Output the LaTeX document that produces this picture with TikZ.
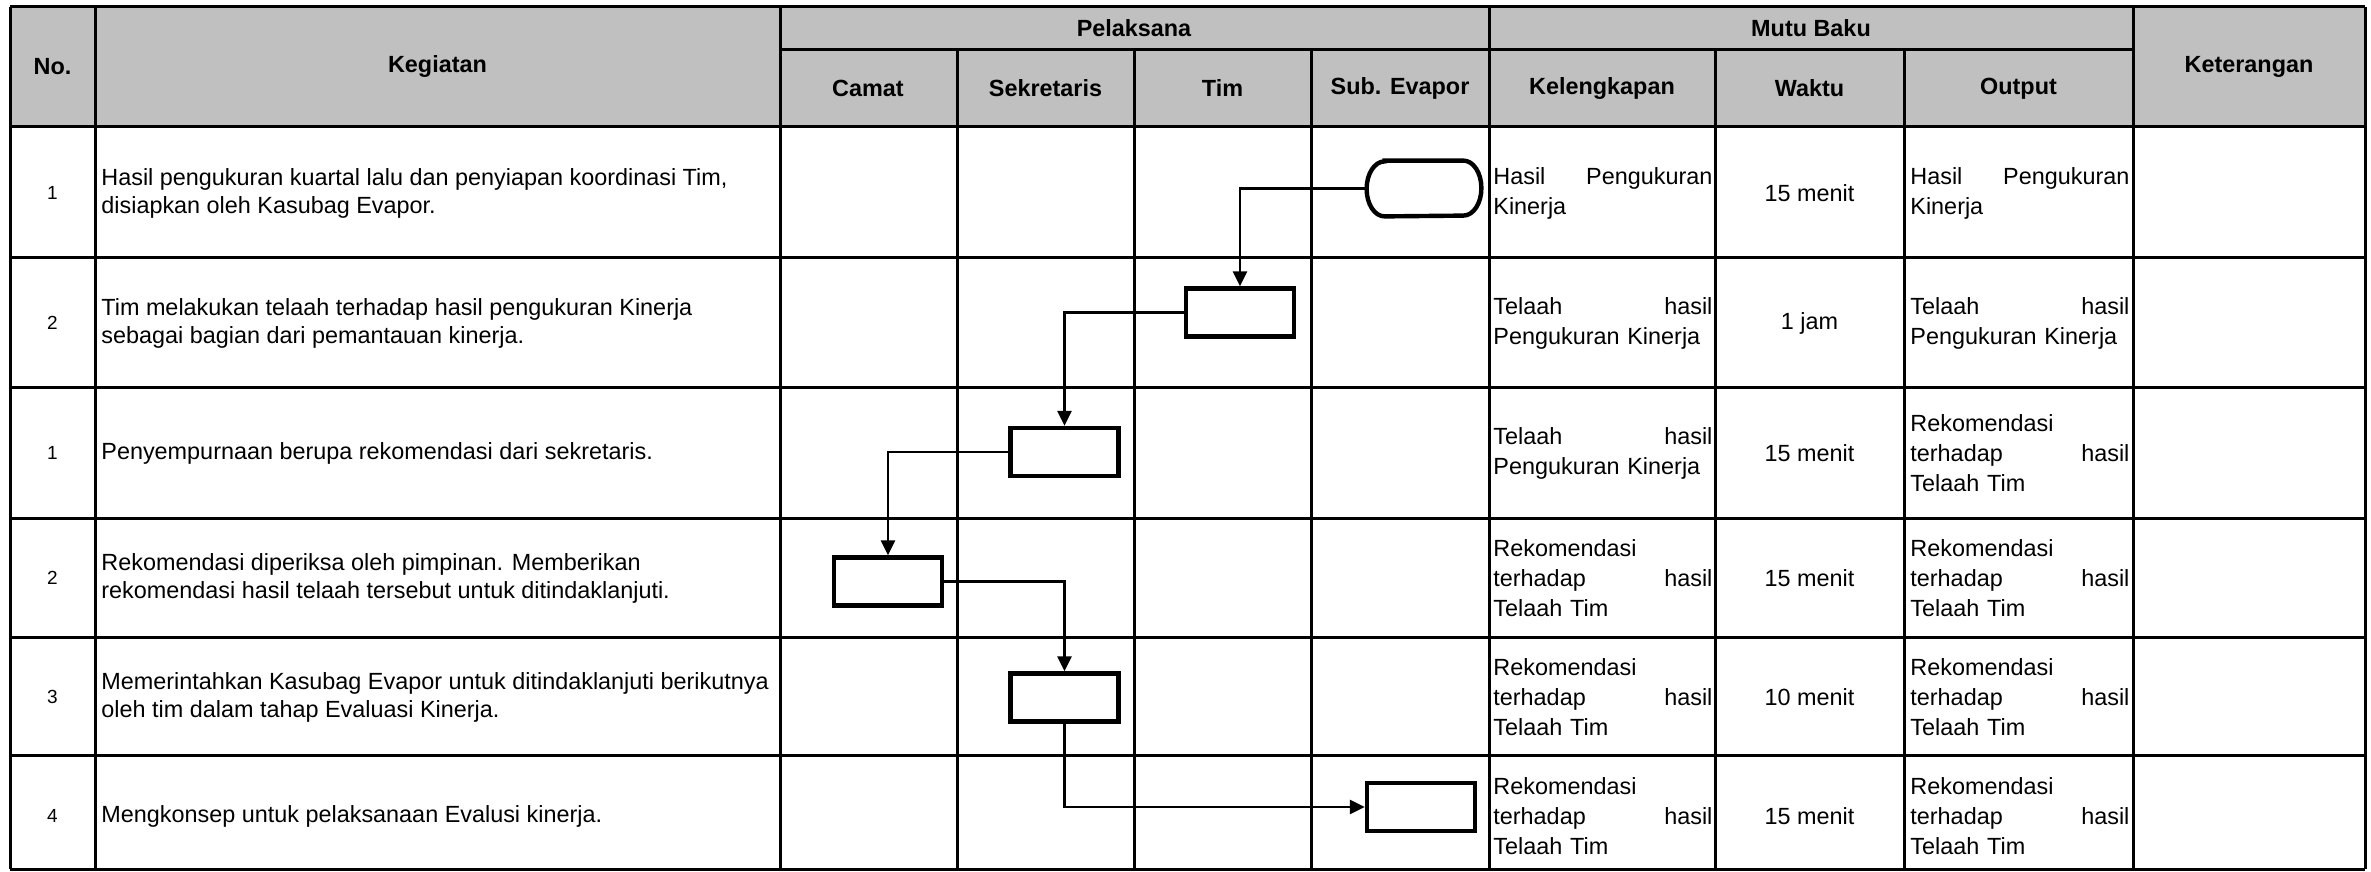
\documentclass[tikz,border=0pt]{standalone}
\usepackage{fontspec}
\setmainfont{Liberation Sans}
\usetikzlibrary{arrows.meta}
\definecolor{hdr}{RGB}{192,192,192}
\newcommand\bodyfont{\fontsize{11.7pt}{14pt}\selectfont}
\newcommand\cellfont{\fontsize{11.7pt}{15pt}\selectfont}
\newcommand\numfont{\fontsize{9.5pt}{11pt}\selectfont}
\newcommand\hdfont{\fontsize{11.7pt}{14pt}\selectfont\bfseries}
\newcommand\jline[2]{\leavevmode\hbox to 109.5pt{#1\hfill #2}}
\begin{document}
\begin{tikzpicture}[x=0.5pt,y=-0.5pt,
  grid/.style={line width=1.5pt,draw=black},
  hd/.style={font=\hdfont,inner sep=0pt},
  num/.style={font=\numfont,inner sep=0pt},
  keg/.style={font=\bodyfont,align=left,anchor=west,inner sep=0pt},
  mb/.style={font=\cellfont,anchor=west,inner sep=0pt,text width=109.5pt,align=left},
  wk/.style={font=\bodyfont,inner sep=0pt},
  proc/.style={draw,line width=2.2pt,minimum width=54pt,minimum height=24pt,inner sep=0pt},
  term/.style={minimum width=57pt,minimum height=27.5pt,inner sep=0pt},
  termline/.style={line width=2.2pt},
  conn/.style={line width=1.4pt,-{Triangle[length=7.5pt,width=7pt]}}]
\useasboundingbox (0,0) rectangle (2371,872);
% header fill
\fill[hdr] (10,7) rectangle (2365,127);
% grid lines
\draw[grid] (10,7) -- (2365,7);
\draw[grid] (779,50) -- (2133,50);
\foreach \yy in {127,257,387,518,637,755,869} \draw[grid] (10,\yy) -- (2365,\yy);
\foreach \xx in {10,95,780,1489,2133,2365} \draw[grid] (\xx,7) -- (\xx,869);
\foreach \xx in {957,1134,1311,1715,1904} \draw[grid] (\xx,50) -- (\xx,869);
% header texts
\node[hd] (hno) at (52.5,67) {No.};
\node[hd] (hkeg) at (437.5,67) {Kegiatan};
\node[hd] (hpel) at (1134,28.5) {Pelaksana};
\node[hd] (hmutu) at (1811,28.5) {Mutu Baku};
\node[hd] (hcam) at (868,88.5) {Camat};
\node[hd] (hsek) at (1045.5,88.5) {Sekretaris};
\node[hd] (htim) at (1222.5,88.5) {Tim};
\node[hd] (hsub) at (1400,88.5) {Sub. Evapor};
\node[hd] (hkel) at (1602,88.5) {Kelengkapan};
\node[hd] (hwak) at (1809.5,88.5) {Waktu};
\node[hd] (hout) at (2018.5,88.5) {Output};
\node[hd] (hket) at (2249,67) {Keterangan};
% numbers
\node[num] (n1) at (52.5,193) {1};
\node[num] (n2) at (52.5,323) {2};
\node[num] (n3) at (52.5,453) {1};
\node[num] (n4) at (52.5,578) {2};
\node[num] (n5) at (52.5,697) {3};
\node[num] (n6) at (52.5,816) {4};
% kegiatan
\node[keg] (k1) at (101,193) {Hasil pengukuran kuartal lalu dan penyiapan koordinasi Tim,\\disiapkan oleh Kasubag Evapor.};
\node[keg] (k2) at (101,323) {Tim melakukan telaah terhadap hasil pengukuran Kinerja\\sebagai bagian dari pemantauan kinerja.};
\node[keg] (k3) at (101,453) {Penyempurnaan berupa rekomendasi dari sekretaris.};
\node[keg] (k4) at (101,578) {Rekomendasi diperiksa oleh pimpinan. Memberikan\\rekomendasi hasil telaah tersebut untuk ditindaklanjuti.};
\node[keg] (k5) at (101,697) {Memerintahkan Kasubag Evapor untuk ditindaklanjuti berikutnya\\oleh tim dalam tahap Evaluasi Kinerja.};
\node[keg] (k6) at (101,816) {Mengkonsep untuk pelaksanaan Evalusi kinerja.};
% kelengkapan
\node[mb] (l1) at (1493,193) {\jline{Hasil}{Pengukuran}\\Kinerja};
\node[mb] (l2) at (1493,323) {\jline{Telaah}{hasil}\\Pengukuran Kinerja};
\node[mb] (l3) at (1493,453) {\jline{Telaah}{hasil}\\Pengukuran Kinerja};
\node[mb] (l4) at (1493,578) {Rekomendasi\\\jline{terhadap}{hasil}\\Telaah Tim};
\node[mb] (l5) at (1493,697) {Rekomendasi\\\jline{terhadap}{hasil}\\Telaah Tim};
\node[mb] (l6) at (1493,816) {Rekomendasi\\\jline{terhadap}{hasil}\\Telaah Tim};
% waktu
\node[wk] (w1) at (1809.5,193) {15 menit};
\node[wk] (w2) at (1809.5,323) {1 jam};
\node[wk] (w3) at (1809.5,453) {15 menit};
\node[wk] (w4) at (1809.5,578) {15 menit};
\node[wk] (w5) at (1809.5,697) {10 menit};
\node[wk] (w6) at (1809.5,816) {15 menit};
% output
\node[mb] (o1) at (1910,193) {\jline{Hasil}{Pengukuran}\\Kinerja};
\node[mb] (o2) at (1910,323) {\jline{Telaah}{hasil}\\Pengukuran Kinerja};
\node[mb] (o3) at (1910,453) {Rekomendasi\\\jline{terhadap}{hasil}\\Telaah Tim};
\node[mb] (o4) at (1910,578) {Rekomendasi\\\jline{terhadap}{hasil}\\Telaah Tim};
\node[mb] (o5) at (1910,697) {Rekomendasi\\\jline{terhadap}{hasil}\\Telaah Tim};
\node[mb] (o6) at (1910,816) {Rekomendasi\\\jline{terhadap}{hasil}\\Telaah Tim};
% flow shapes
\node[term] (t1) at (1424,188.5) {};
\draw[termline] ([xshift=9pt]t1.north west) -- ([xshift=-9pt]t1.north east)
  arc[start angle=90,end angle=-90,x radius=9pt,y radius=13.75pt]
  -- ([xshift=9pt]t1.south west)
  arc[start angle=270,end angle=90,x radius=9pt,y radius=13.75pt] -- cycle;
\node[proc] (b2) at (1240,312.5) {};
\node[proc] (b3) at (1064.5,452) {};
\node[proc] (b4) at (888,581.5) {};
\node[proc] (b5) at (1064.5,697.5) {};
\node[proc] (b6) at (1421,807) {};
% connectors
\draw[conn] (t1.west) -| (b2.north);
\draw[conn] (b2.west) -| (b3.north);
\draw[conn] (b3.west) -| (b4.north);
\draw[conn] (b4.east) -| (b5.north);
\draw[conn] (b5.south) |- (b6.west);
\end{tikzpicture}
\end{document}
